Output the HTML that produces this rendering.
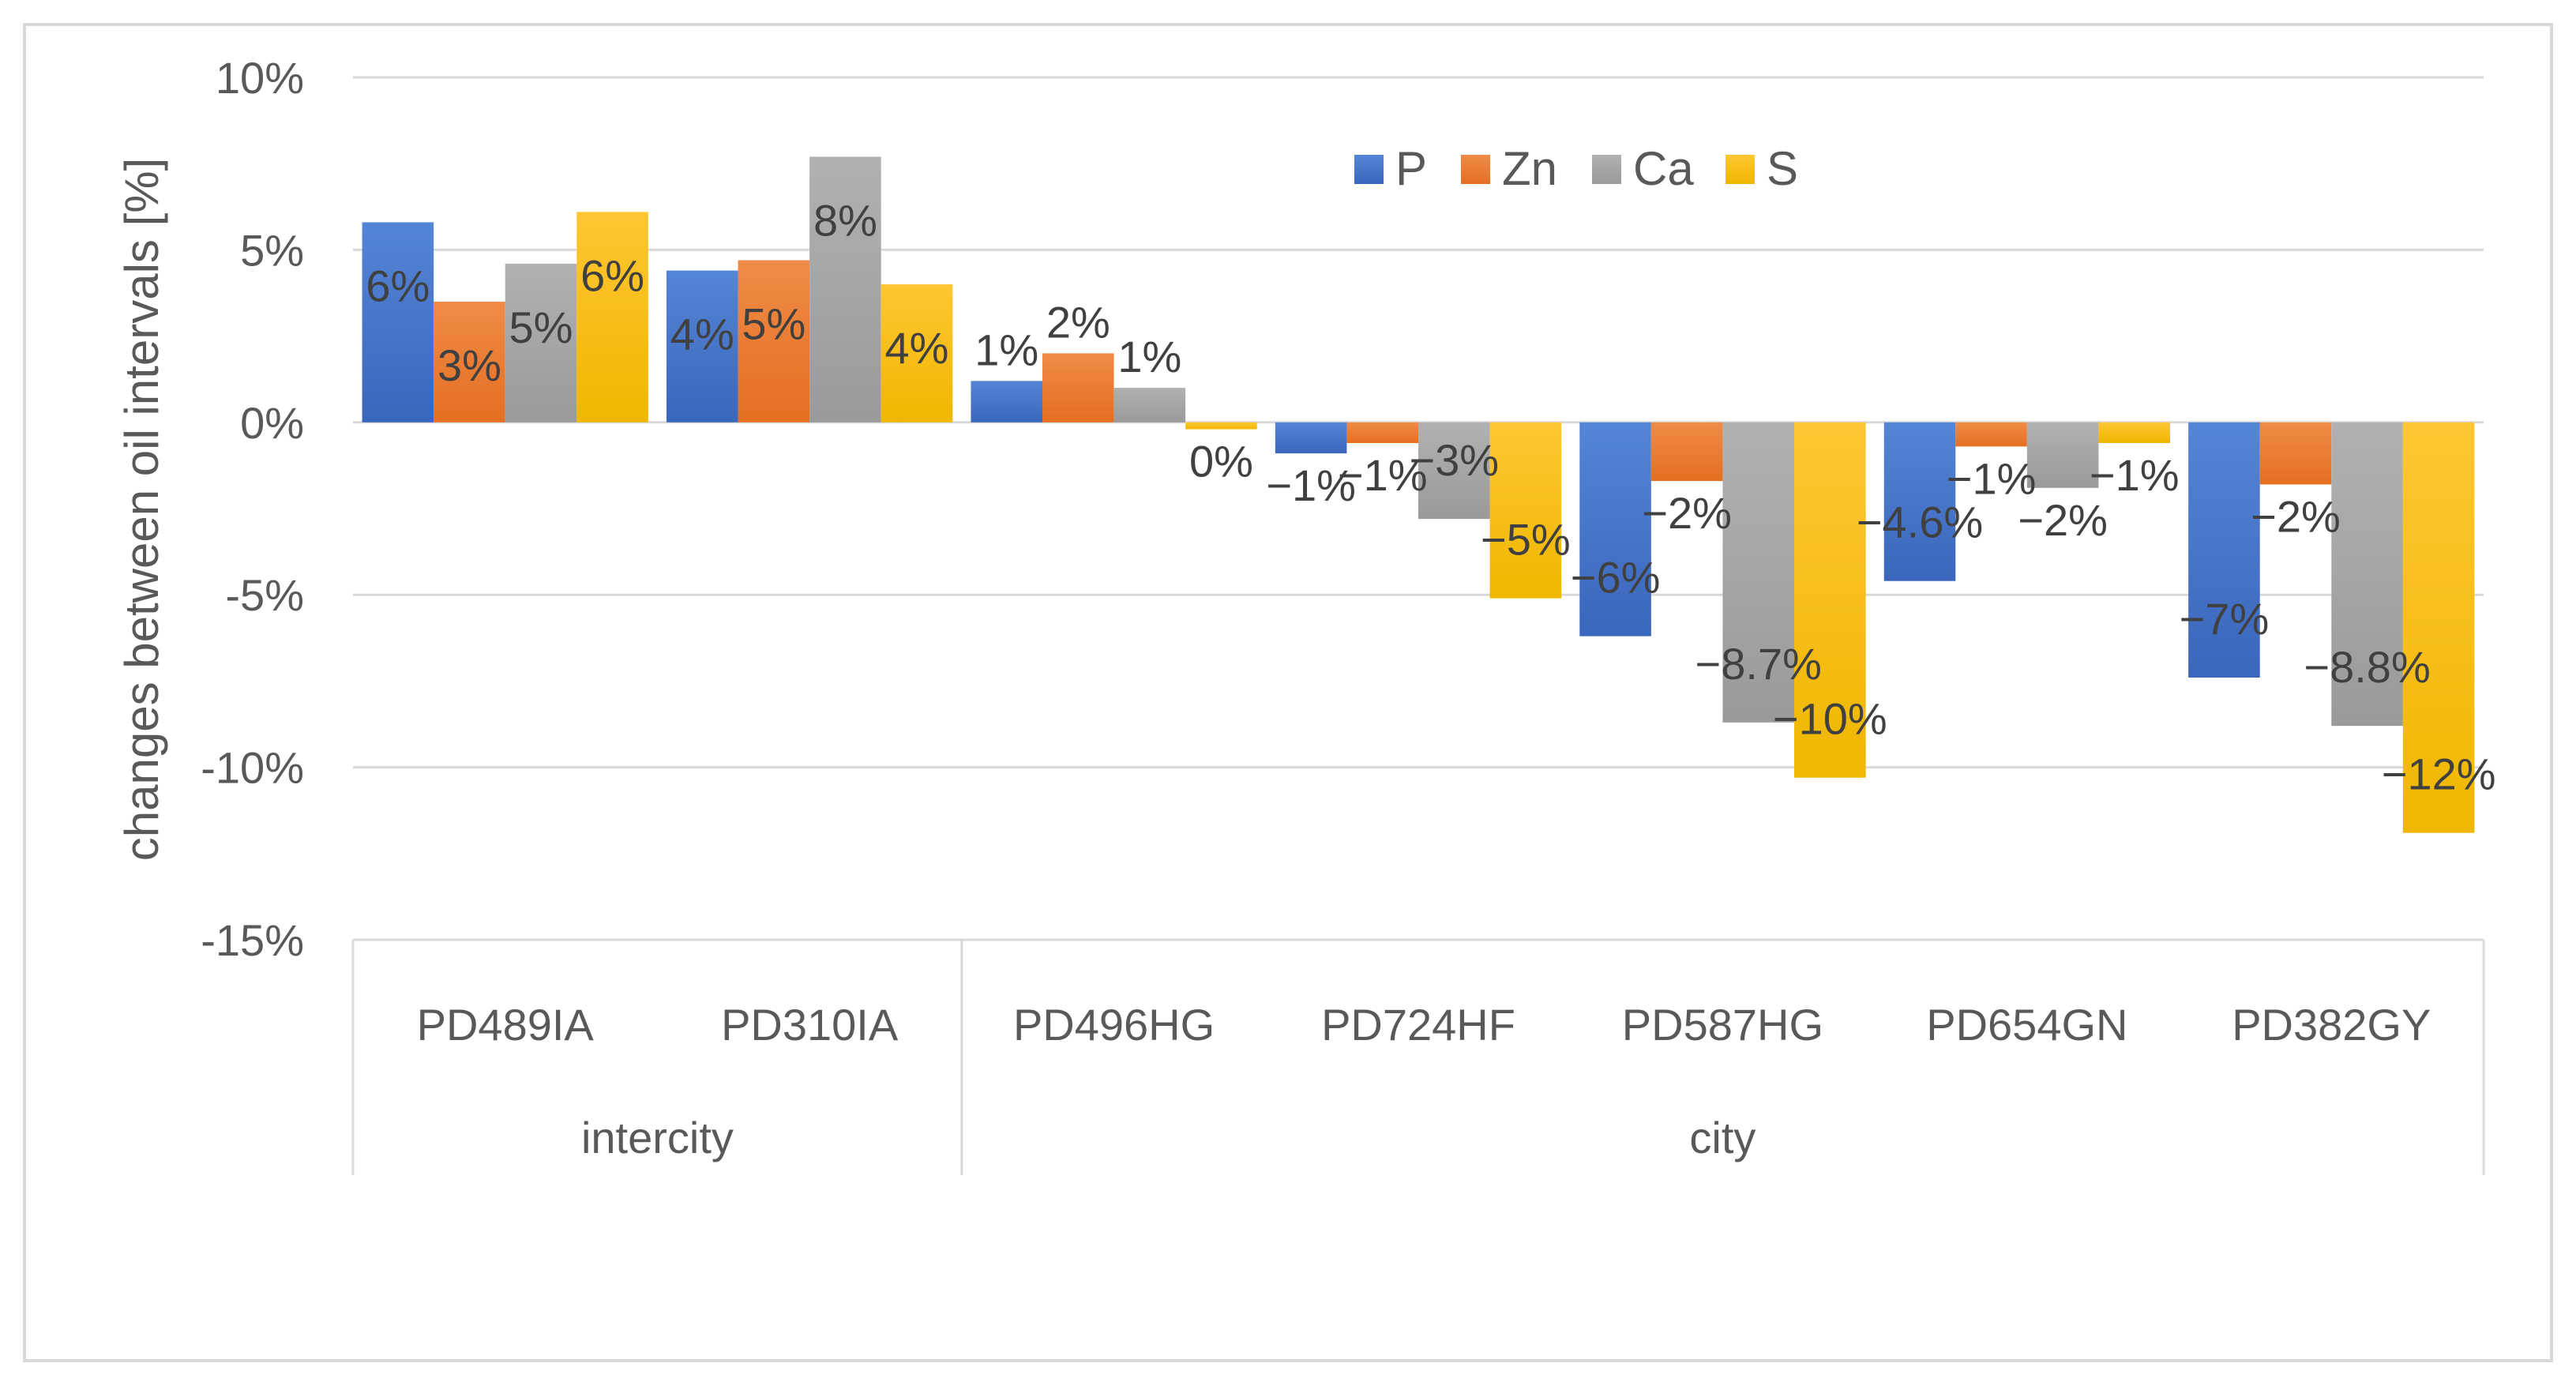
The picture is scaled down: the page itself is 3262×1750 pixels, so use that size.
<!DOCTYPE html>
<html><head><meta charset="utf-8"><style>
html,body{margin:0;padding:0;background:#fff;}
svg{display:block;}
text{font-family:"Liberation Sans",sans-serif;fill:#595959;}
</style></head><body>
<svg id="chart" width="3262" height="1750" viewBox="0 0 3262 1750" xmlns="http://www.w3.org/2000/svg">
<defs>
<linearGradient id="gP" x1="0" y1="0" x2="0" y2="1"><stop offset="0" stop-color="#5585d6"/><stop offset="1" stop-color="#3a66bb"/></linearGradient>
<linearGradient id="gZn" x1="0" y1="0" x2="0" y2="1"><stop offset="0" stop-color="#f08b48"/><stop offset="1" stop-color="#e46f20"/></linearGradient>
<linearGradient id="gCa" x1="0" y1="0" x2="0" y2="1"><stop offset="0" stop-color="#b1b1b1"/><stop offset="1" stop-color="#9a9a9a"/></linearGradient>
<linearGradient id="gS" x1="0" y1="0" x2="0" y2="1"><stop offset="0" stop-color="#ffc633"/><stop offset="1" stop-color="#efb700"/></linearGradient>
</defs>
<rect x="31" y="31" width="3200" height="1692" fill="#fff" stroke="#d9d9d9" stroke-width="4"/>
<g id="grid"></g>
<g id="bars"></g>
<g id="labels"></g>
<g id="axes"></g>
</svg>
<script>
const categories = ["PD489IA","PD310IA","PD496HG","PD724HF","PD587HG","PD654GN","PD382GY"];
const groups = ["intercity","city"];
const groupSizes = [2,5];
const seriesNames = ["P","Zn","Ca","S"];
const seriesP = [5.8, 4.4, 1.2, -0.9, -6.2, -4.6, -7.4];
const seriesZn = [3.5, 4.7, 2.0, -0.6, -1.7, -0.7, -1.8];
const seriesCa = [4.6, 7.7, 1.0, -2.8, -8.7, -1.9, -8.8];
const seriesS = [6.1, 4.0, -0.2, -5.1, -10.3, -0.6, -11.9];
const labelsP = ["6%","4%","1%","\u22121%","\u22126%","\u22124.6%","\u22127%"];
const labelsZn = ["3%","5%","2%","\u22121%","\u22122%","\u22121%","\u22122%"];
const labelsCa = ["5%","8%","1%","\u22123%","\u22128.7%","\u22122%","\u22128.8%"];
const labelsS = ["6%","4%","0%","\u22125%","\u221210%","\u22121%","\u221212%"];
const yTicks = [10,5,0,-5,-10,-15];
const yTickLabels = ["10%","5%","0%","-5%","-10%","-15%"];

const NS="http://www.w3.org/2000/svg";
const X0=447, X1=3145, Y_TOP=98, Y_BOT=1190, VMAX=10, VMIN=-15;
const yScale=v=>Y_TOP+(VMAX-v)/(VMAX-VMIN)*(Y_BOT-Y_TOP);
const catW=(X1-X0)/categories.length;
const xCat=i=>X0+i*catW;
function mk(tag,attrs,parent){const e=document.createElementNS(NS,tag);for(const k in attrs)e.setAttribute(k,attrs[k]);parent.appendChild(e);return e;}
const grid=document.getElementById('grid'),bars=document.getElementById('bars'),labs=document.getElementById('labels'),axes=document.getElementById('axes');

yTicks.forEach((t,i)=>{
  const y=yScale(t);
  const l=mk('line',{x1:X0,x2:X1,y1:y,y2:y,stroke:'#d9d9d9','stroke-width':3},grid);
  
  
  const tx=mk('text',{x:385,y:y+20,'text-anchor':'end','font-size':56},axes);
  tx.textContent=yTickLabels[i];
  
  
});

const series=[seriesP,seriesZn,seriesCa,seriesS];
const labels=[labelsP,labelsZn,labelsCa,labelsS];
const fills=['url(#gP)','url(#gZn)','url(#gCa)','url(#gS)'];
const gap=catW*0.03, bw=(catW-2*gap)/4;
const y0=yScale(0);
categories.forEach((c,i)=>{
  series.forEach((s,k)=>{
    const v=s[i];
    const x=xCat(i)+gap+k*bw;
    const yv=yScale(v);
    const top=Math.min(yv,y0), h=Math.abs(yv-y0);
    const r=mk('rect',{x:x,y:top,width:bw,height:Math.max(h,2),fill:fills[k]},bars);
    
    
    let ly;
    if(v>=0){ ly = h>=100 ? top+100 : top-20; }
    else { ly = h>=110 ? yv-55 : yv+60; }
    const t=mk('text',{x:x+bw/2,y:ly,'text-anchor':'middle','font-size':56},labs);
    t.textContent=labels[k][i];
    
    
    t.style.fill='#404040';
  });
  const ct=mk('text',{x:xCat(i)+catW/2,y:1317,'text-anchor':'middle','font-size':56},axes);
  ct.textContent=c;
  
  
});

let start=0;
const vl=mk('line',{x1:X0,x2:X0,y1:Y_BOT,y2:1488,stroke:'#d9d9d9','stroke-width':3},axes);


groups.forEach((g,gi)=>{
  const end=start+groupSizes[gi];
  const xe=xCat(end);
  const l=mk('line',{x1:xe,x2:xe,y1:Y_BOT,y2:1488,stroke:'#d9d9d9','stroke-width':3},axes);
  
  
  const t=mk('text',{x:(xCat(start)+xe)/2,y:1460,'text-anchor':'middle','font-size':56},axes);
  t.textContent=g;
  
  
  start=end;
});

const yt=mk('text',{x:0,y:0,'text-anchor':'middle','font-size':60,transform:'translate(200,645) rotate(-90)'},axes);
yt.textContent='changes between oil intervals [%]';



const legX=[1715,1850,2016,2185];
seriesNames.forEach((n,k)=>{
  const sq=mk('rect',{x:legX[k],y:196,width:37,height:37,fill:fills[k]},axes);
  
  
  const t=mk('text',{x:legX[k]+52,y:234,'font-size':60},axes);
  t.textContent=n;
  
  
});
</script>
</body></html>
